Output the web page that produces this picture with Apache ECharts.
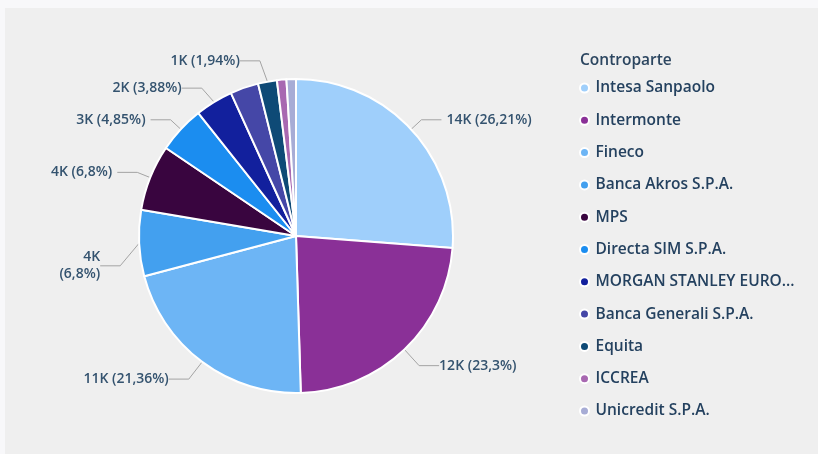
<!DOCTYPE html>
<html>
<head>
<meta charset="utf-8">
<script src="https://cdn.jsdelivr.net/npm/echarts@6/dist/echarts.min.js"></script>
<style>
html,body{margin:0;padding:0;background:#f8f8fa;width:818px;height:454px;overflow:hidden;}
#c{position:absolute;left:5px;top:8px;width:813px;height:446px;background:#efefef;}
</style>
</head>
<body>
<div id="c"></div>
<script>
const categories = ['Intesa Sanpaolo','Intermonte','Fineco','Banca Akros S.P.A.','MPS','Directa SIM S.P.A.','MORGAN STANLEY EUROPE SE','Banca Generali S.P.A.','Equita','ICCREA','Unicredit S.P.A.'];
const values = [13500,12000,11000,3500,3500,2500,2000,1500,1000,500,500];
const colors = ['#9fcffb','#8a3097','#6db5f5','#43a0ef','#39053f','#1b8df0','#12209d','#4547a7','#0e4a76','#a868b1','#a7acd5'];
const hiddenLabels = ['Banca Generali S.P.A.','ICCREA','Unicredit S.P.A.'];
const wrappedLabels = ['Banca Akros S.P.A.'];

const total = values.reduce((a,b)=>a+b,0);
function fmtLabel(v, wrap){
  const k = Math.round(v/1000) + 'K';
  const p = parseFloat((v/total*100).toFixed(2)).toString().replace('.', ',');
  return k + (wrap ? '\n' : ' ') + '(' + p + '%)';
}
const data = categories.map((n,i)=>{
  const o = {name:n, value:values[i], itemStyle:{color:colors[i]}};
  if (hiddenLabels.includes(n)) { o.label = {show:false}; o.labelLine = {show:false}; }
  else if (wrappedLabels.includes(n)) { o.label = {formatter: fmtLabel(values[i], true), align:'center'}; }
  return o;
});

// small vertical nudges of label text (style only)
function labelNudge(name){
  if (name === 'Banca Akros S.P.A.') return 22;
  if (name === 'Equita') return -7;
  if (name === 'MORGAN STANLEY EUROPE SE') return -2;
  if (name === 'Intermonte' || name === 'Fineco') return 6;
  return 0;
}

const chart = echarts.init(document.getElementById('c'), null, {renderer:'canvas'});
chart.setOption({
  animation:false,
  backgroundColor:'transparent',
  title:{text:'Controparte', left:570, top:40, textStyle:{fontFamily:'Open Sans', fontSize:15.5, fontWeight:600, color:'#2c4660'}},
  legend:{
    orient:'vertical', left:569, top:66, icon:'circle', itemWidth:12, itemHeight:9, itemGap:14.3,
    data:categories,
    textStyle:{fontFamily:'Open Sans', fontSize:15.5, fontWeight:600, color:'#24415f', lineHeight:18, width:205, overflow:'truncate', ellipsis:'...'}
  },
  series:[{
    type:'pie', center:[291,228], radius:[0,157], startAngle:90, clockwise:true,
    avoidLabelOverlap:true, minShowLabelAngle:0,
    itemStyle:{borderColor:'#ffffff', borderWidth:2},
    label:{show:true, position:'outside', fontFamily:'Open Sans', fontSize:14, fontWeight:600, color:'#34536f', lineHeight:17,
      formatter:(p)=>fmtLabel(p.value,false)},
    labelLine:{show:true, length:14, length2:20, lineStyle:{color:'#a3a3a3', width:1}},
    labelLayout:(p)=>{
      const d = labelNudge(categories[p.dataIndex]);
      if (!d) return {};
      return {y: p.labelRect.y + p.labelRect.height/2 + d, verticalAlign:'middle'};
    },
    data:data
  }]
});
</script>
</body>
</html>
